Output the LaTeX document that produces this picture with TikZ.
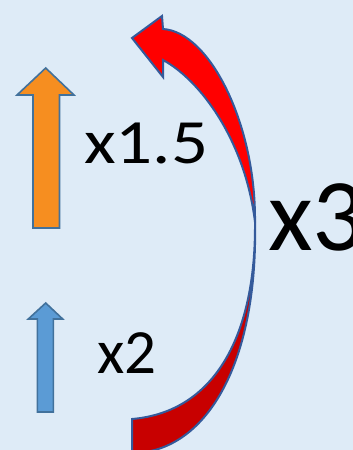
\documentclass[tikz,border=0pt]{standalone}
\usepackage{fontspec}
\setmainfont{Carlito}
\definecolor{bgc}{RGB}{222,235,247}
\definecolor{orangec}{RGB}{246,142,32}
\definecolor{bluec}{RGB}{91,155,213}
\definecolor{outc}{RGB}{65,113,156}
\definecolor{redout}{RGB}{52,90,155}
\definecolor{brightred}{RGB}{255,0,0}
\definecolor{darkred}{RGB}{200,0,0}
\tikzset{
  outl/.style={draw=outc, line width=1.6pt, line join=miter},
  redl/.style={draw=redout, line width=2pt, line join=miter},
  lbl/.style={inner sep=0pt, anchor=base west, text=black}
}
\begin{document}
\begin{tikzpicture}[x=1pt,y=-1pt]
\useasboundingbox (0,0) rectangle (353,450);
\fill[bgc] (0,0) rectangle (353,450);
\begin{scope}
\clip (0,0) rectangle (353,450);
% lower (back) band of the curved arrow
\draw[redl, fill=darkred] (255,222) .. controls (256,335) and (215,412) .. (132,419)
  -- (132,453) .. controls (205,453) and (258,365) .. (255,222) -- cycle;
% upper (front) band with arrow head
\draw[redl, fill=brightred] (162,16) -- (163,29) .. controls (210,32) and (256,125) .. (255,222)
  .. controls (245,140) and (200,80) .. (163,60) -- (163,77) -- (132,38) -- cycle;
\end{scope}
% straight arrows
\draw[outl, fill=orangec] (33,228) -- (33,95) -- (17,95) -- (45.7,68) -- (74,95) -- (59.5,95) -- (59.5,228) -- cycle;
\draw[outl, fill=bluec] (37.3,412) -- (37.3,319) -- (28.3,319) -- (45.7,303) -- (62.7,319) -- (53.3,319) -- (53.3,412) -- cycle;
% labels
\node[lbl, font=\fontsize{63}{63}\selectfont] (t15) at (84,163) {\scalebox{1.16}[1]{x1.5}};
\node[lbl, font=\fontsize{63}{63}\selectfont] (t2) at (97,373) {x2};
\node[lbl, font=\fontsize{103}{103}\selectfont] (t3) at (268,250) {x3};
\end{tikzpicture}
\end{document}
